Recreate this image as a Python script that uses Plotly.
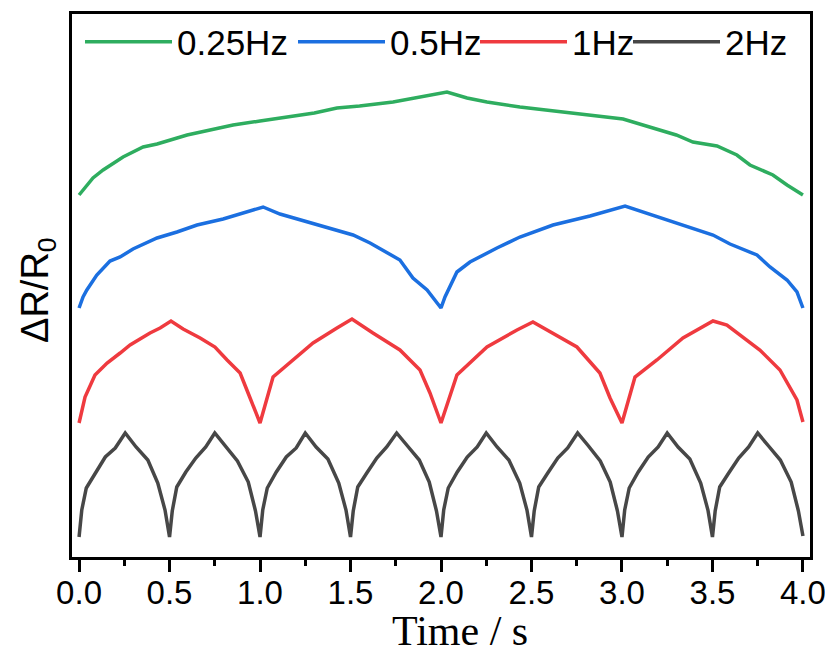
import plotly.graph_objects as go

# ---------------- data ----------------
t_025 = [0, 0.077, 0.133, 0.243, 0.354, 0.431, 0.597, 0.70, 0.851, 1.0, 1.149, 1.30, 1.425,
         1.55, 1.735, 1.85, 1.923, 2.033, 2.144, 2.254, 2.436, 2.619, 2.807, 3.006, 3.171,
         3.30, 3.392, 3.525, 3.635, 3.707, 3.834, 3.912, 4.0]
v_025 = [3.62, 3.79, 3.87, 4.00, 4.10, 4.13, 4.22, 4.26, 4.32, 4.36, 4.40, 4.44, 4.49,
         4.51, 4.55, 4.59, 4.62, 4.65, 4.59, 4.55, 4.50, 4.46, 4.42, 4.38, 4.29,
         4.22, 4.15, 4.11, 4.02, 3.92, 3.82, 3.72, 3.62]

t_05 = [0, 0.022, 0.043, 0.098, 0.171, 0.227, 0.298, 0.431, 0.541, 0.652, 0.796, 0.901, 1.017,
        1.110, 1.260, 1.370, 1.514, 1.608, 1.718, 1.773, 1.845, 1.923, 2.0,
        2.022, 2.088, 2.160, 2.309, 2.436, 2.619, 2.823, 3.017, 3.138, 3.304, 3.503,
        3.597, 3.746, 3.818, 3.912, 3.967, 4.0]
v_05 = [2.49, 2.60, 2.67, 2.82, 2.96, 3.00, 3.08, 3.19, 3.25, 3.32, 3.38, 3.44, 3.50,
        3.43, 3.35, 3.30, 3.22, 3.14, 3.02, 2.97, 2.79, 2.67, 2.49,
        2.60, 2.85, 2.95, 3.09, 3.20, 3.32, 3.41, 3.51, 3.44, 3.34, 3.22,
        3.13, 3.02, 2.90, 2.77, 2.65, 2.49]

t_1 = [0, 0.033, 0.088, 0.155, 0.227, 0.282, 0.392, 0.448, 0.508, 0.575, 0.669, 0.751, 0.818,
       0.890, 0.945, 1.0, 1.072, 1.182, 1.293, 1.425, 1.508, 1.624, 1.773, 1.884, 1.939, 2.0,
       2.088, 2.254, 2.420, 2.508, 2.586, 2.751, 2.878, 2.934, 3.0, 3.072, 3.193, 3.337,
       3.503, 3.580, 3.762, 3.873, 3.967, 4.0]
v_1 = [1.34, 1.60, 1.82, 1.94, 2.04, 2.12, 2.24, 2.29, 2.36, 2.28, 2.19, 2.10, 1.97,
       1.84, 1.59, 1.34, 1.80, 1.97, 2.14, 2.29, 2.38, 2.24, 2.07, 1.87, 1.64, 1.34,
       1.82, 2.10, 2.27, 2.35, 2.27, 2.10, 1.84, 1.59, 1.34, 1.80, 1.97, 2.19,
       2.36, 2.32, 2.07, 1.87, 1.57, 1.35]

t_2 = [0, 0.015, 0.04, 0.09, 0.145, 0.20, 0.255, 0.315, 0.38, 0.435, 0.475,
       0.5, 0.515, 0.54, 0.59, 0.645, 0.70, 0.75, 0.81, 0.875, 0.935, 0.975,
       1.0, 1.015, 1.04, 1.09, 1.145, 1.20, 1.25, 1.31, 1.375, 1.435, 1.475,
       1.5, 1.515, 1.54, 1.59, 1.645, 1.70, 1.755, 1.815, 1.88, 1.935, 1.975,
       2.0, 2.015, 2.04, 2.09, 2.145, 2.20, 2.25, 2.31, 2.375, 2.435, 2.475,
       2.5, 2.515, 2.54, 2.59, 2.645, 2.70, 2.755, 2.815, 2.88, 2.935, 2.975,
       3.0, 3.015, 3.04, 3.09, 3.145, 3.20, 3.25, 3.31, 3.375, 3.435, 3.475,
       3.5, 3.515, 3.54, 3.59, 3.645, 3.70, 3.75, 3.81, 3.875, 3.935, 3.975, 4.0]
v_2 = [0.20, 0.47, 0.69, 0.84, 1.00, 1.09, 1.24, 1.10, 0.97, 0.74, 0.47,
       0.20, 0.46, 0.70, 0.85, 0.99, 1.10, 1.24, 1.11, 0.96, 0.75, 0.46,
       0.20, 0.47, 0.69, 0.85, 1.00, 1.09, 1.24, 1.10, 0.98, 0.74, 0.47,
       0.20, 0.46, 0.70, 0.84, 0.99, 1.10, 1.24, 1.11, 0.97, 0.75, 0.46,
       0.20, 0.47, 0.69, 0.85, 1.00, 1.10, 1.24, 1.10, 0.97, 0.74, 0.47,
       0.20, 0.46, 0.70, 0.84, 0.99, 1.09, 1.24, 1.11, 0.96, 0.75, 0.46,
       0.20, 0.47, 0.69, 0.85, 1.00, 1.10, 1.24, 1.10, 0.98, 0.74, 0.47,
       0.20, 0.46, 0.70, 0.84, 0.99, 1.10, 1.24, 1.11, 0.97, 0.75, 0.46, 0.21]

series_names = ["0.25Hz", "0.5Hz", "1Hz", "2Hz"]
x_ticks = [0, 0.5, 1.0, 1.5, 2.0, 2.5, 3.0, 3.5, 4.0]
x_ticktext = ["0.0", "0.5", "1.0", "1.5", "2.0", "2.5", "3.0", "3.5", "4.0"]

# ---------------- figure ----------------
colors = ["#2EAD5F", "#1B6FE0", "#EF3A3F", "#474747"]
legend_ids = ["legend", "legend2", "legend3", "legend4"]
series = [(t_025, v_025), (t_05, v_05), (t_1, v_1), (t_2, v_2)]

fig = go.Figure()
for (tx, vy), name, c, lg in zip(series, series_names, colors, legend_ids):
    fig.add_trace(go.Scatter(x=tx, y=vy, mode="lines", name=name,
                             line=dict(color=c, width=3.5), legend=lg))

# the page body adds an 8px offset, so the figure is laid out in window px minus 8
OFF = 8
W, H = 833 - OFF, 653 - OFF
L, T = 72 - OFF, 14 - OFF
R = W - (810 - OFF)
B = H - (557 - OFF)
pw, ph = W - L - R, H - T - B

def px_x(p):
    return (p - OFF - L) / pw

def px_y(p):
    return (H + OFF - B - p) / ph

leg_font = dict(family="Liberation Sans, Arial", size=35, color="black")
leg_starts = [80, 293, 475, 628]
common_leg = dict(orientation="h", xanchor="left", yanchor="middle",
                  y=px_y(42), bgcolor="rgba(0,0,0,0)", borderwidth=0,
                  font=leg_font, itemwidth=87, tracegroupgap=0)

layout_legends = {}
for lg, xs in zip(legend_ids, leg_starts):
    layout_legends[lg] = dict(common_leg, x=px_x(xs))

fig.update_layout(
    width=W, height=H,
    margin=dict(l=L, r=R, t=T, b=B, pad=0, autoexpand=False),
    paper_bgcolor="white", plot_bgcolor="white",
    showlegend=True,
    **layout_legends,
    xaxis=dict(range=[-0.039, 4.039], tickvals=x_ticks, ticktext=x_ticktext,
               automargin=False, ticklabelstandoff=-8,
               ticks="outside", ticklen=12, tickwidth=2.5, tickcolor="black",
               minor=dict(dtick=0.25, tick0=0, ticks="outside", ticklen=6,
                          tickwidth=2.5, tickcolor="black"),
               showline=True, linewidth=3, linecolor="black", mirror=True,
               showgrid=False, zeroline=False,
               tickfont=dict(family="Liberation Sans, Arial", size=33, color="black")),
    yaxis=dict(range=[0, 5.43], showticklabels=False, ticks="", automargin=False,
               showline=True, linewidth=3, linecolor="black", mirror=True,
               showgrid=False, zeroline=False),
    annotations=[
        dict(text="Time / s", xref="paper", yref="paper", x=px_x(460), y=px_y(631),
             xanchor="center", yanchor="middle", showarrow=False,
             font=dict(family="Liberation Serif, Times New Roman", size=42, color="black")),
        dict(text="ΔR/R<sub>0</sub>", xref="paper", yref="paper", x=px_x(38), y=px_y(290),
             xanchor="center", yanchor="middle", showarrow=False, textangle=-90,
             font=dict(family="Liberation Sans, Arial", size=38, color="black")),
    ],
)

fig.write_html("out.html")
